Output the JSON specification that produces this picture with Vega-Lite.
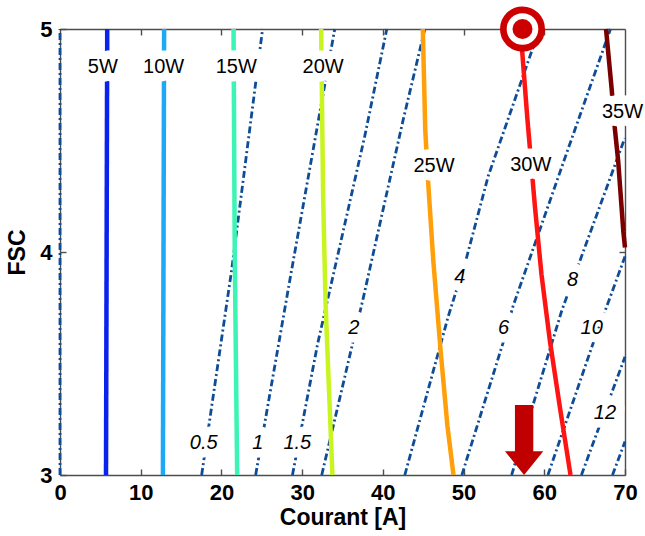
{
  "$schema": "https://vega.github.io/schema/vega-lite/v6.json",
  "width": 565,
  "height": 446,
  "autosize": "none",
  "padding": {"left": 60, "top": 29, "right": 20, "bottom": 61},
  "background": "white",
  "config": {
    "view": {"stroke": null},
    "font": "Liberation Sans",
    "axis": {
      "grid": false,
      "domainColor": "#4d4d4d",
      "domainWidth": 1.4,
      "tickColor": "#4d4d4d",
      "tickWidth": 1.4,
      "tickSize": -6,
      "labelFont": "Liberation Sans",
      "labelFontWeight": "bold",
      "labelFontSize": 22,
      "labelColor": "#000000",
      "labelFlush": false,
      "labelOverlap": false,
      "titleFont": "Liberation Sans",
      "titleFontWeight": "bold",
      "titleFontSize": 23,
      "titleColor": "#000000"
    }
  },
  "datasets": {
    "iso": [
      {"k": "0", "I": 0, "FSC": 3}, {"k": "0", "I": 0, "FSC": 5},
      {"k": "0.5", "I": 17.55, "FSC": 3}, {"k": "0.5", "I": 21.27, "FSC": 3.92}, {"k": "0.5", "I": 25.1, "FSC": 5},
      {"k": "1", "I": 24.24, "FSC": 3}, {"k": "1", "I": 28.7, "FSC": 3.92}, {"k": "1", "I": 34.04, "FSC": 5},
      {"k": "1.5", "I": 28.8, "FSC": 3}, {"k": "1.5", "I": 31.93, "FSC": 3.59}, {"k": "1.5", "I": 37.76, "FSC": 4.52}, {"k": "1.5", "I": 40.49, "FSC": 5},
      {"k": "2", "I": 32.43, "FSC": 3}, {"k": "2", "I": 37.55, "FSC": 3.79}, {"k": "2", "I": 42.5, "FSC": 4.59}, {"k": "2", "I": 45.2, "FSC": 5},
      {"k": "4", "I": 42.72, "FSC": 3}, {"k": "4", "I": 48.09, "FSC": 3.71}, {"k": "4", "I": 50.3, "FSC": 3.965}, {"k": "4", "I": 53.05, "FSC": 4.34}, {"k": "4", "I": 58.63, "FSC": 4.92}, {"k": "4", "I": 59.3, "FSC": 5},
      {"k": "6", "I": 49.79, "FSC": 3}, {"k": "6", "I": 54.87, "FSC": 3.59}, {"k": "6", "I": 56.11, "FSC": 3.755}, {"k": "6", "I": 62.93, "FSC": 4.46}, {"k": "6", "I": 68.2, "FSC": 5},
      {"k": "8", "I": 55.95, "FSC": 3}, {"k": "8", "I": 62.19, "FSC": 3.74}, {"k": "8", "I": 69.76, "FSC": 4.49}, {"k": "8", "I": 70, "FSC": 4.51},
      {"k": "10", "I": 60.45, "FSC": 3}, {"k": "10", "I": 66.04, "FSC": 3.59}, {"k": "10", "I": 67.73, "FSC": 3.755}, {"k": "10", "I": 70, "FSC": 3.98},
      {"k": "12", "I": 64.6, "FSC": 3}, {"k": "12", "I": 70, "FSC": 3.53},
      {"k": "14", "I": 68.45, "FSC": 3}, {"k": "14", "I": 70, "FSC": 3.15}
    ],
    "power": [
      {"P": "5W", "I": 5.7, "FSC": 3}, {"P": "5W", "I": 5.85, "FSC": 5},
      {"P": "10W", "I": 12.75, "FSC": 3}, {"P": "10W", "I": 12.9, "FSC": 5},
      {"P": "15W", "I": 21.95, "FSC": 3}, {"P": "15W", "I": 21.65, "FSC": 4}, {"P": "15W", "I": 21.5, "FSC": 5},
      {"P": "20W", "I": 33.75, "FSC": 3}, {"P": "20W", "I": 32.9, "FSC": 3.77}, {"P": "20W", "I": 32.6, "FSC": 4.25}, {"P": "20W", "I": 32.35, "FSC": 5},
      {"P": "25W", "I": 48.75, "FSC": 3}, {"P": "25W", "I": 48.0, "FSC": 3.22}, {"P": "25W", "I": 47.15, "FSC": 3.56}, {"P": "25W", "I": 46.25, "FSC": 3.96}, {"P": "25W", "I": 45.6, "FSC": 4.32}, {"P": "25W", "I": 45.25, "FSC": 4.55}, {"P": "25W", "I": 44.95, "FSC": 5},
      {"P": "30W", "I": 63.25, "FSC": 3}, {"P": "30W", "I": 61.95, "FSC": 3.3}, {"P": "30W", "I": 60.7, "FSC": 3.6}, {"P": "30W", "I": 59.65, "FSC": 3.9}, {"P": "30W", "I": 58.85, "FSC": 4.2}, {"P": "30W", "I": 57.9, "FSC": 4.6}, {"P": "30W", "I": 57.05, "FSC": 5},
      {"P": "35W", "I": 70, "FSC": 4.02}, {"P": "35W", "I": 69.8, "FSC": 4.09}, {"P": "35W", "I": 69.15, "FSC": 4.41}, {"P": "35W", "I": 68.75, "FSC": 4.55}, {"P": "35W", "I": 68.35, "FSC": 4.73}, {"P": "35W", "I": 67.65, "FSC": 5}
    ],
    "plabels": [
      {"label": "5W", "I": 5.3, "FSC": 4.83},
      {"label": "10W", "I": 12.84, "FSC": 4.83},
      {"label": "15W", "I": 21.83, "FSC": 4.83},
      {"label": "20W", "I": 32.6, "FSC": 4.83},
      {"label": "25W", "I": 46.34, "FSC": 4.384},
      {"label": "30W", "I": 58.33, "FSC": 4.39},
      {"label": "35W", "I": 69.69, "FSC": 4.63}
    ],
    "klabels": [
      {"label": "0.5", "I": 17.8, "FSC": 3.144},
      {"label": "1", "I": 24.5, "FSC": 3.144},
      {"label": "1.5", "I": 29.4, "FSC": 3.144},
      {"label": "2", "I": 36.4, "FSC": 3.66},
      {"label": "4", "I": 49.54, "FSC": 3.889},
      {"label": "6", "I": 54.95, "FSC": 3.66},
      {"label": "8", "I": 63.49, "FSC": 3.875},
      {"label": "10", "I": 65.87, "FSC": 3.66},
      {"label": "12", "I": 67.52, "FSC": 3.278}
    ],
    "target": [{"I": 57.3, "FSC": 5}],
    "arrow": [{"I": 57.5, "FSC": 3}]
  },
  "layer": [
    {
      "data": {"name": "iso"},
      "mark": {"type": "line", "color": "#0F4C96", "strokeWidth": 2.8, "strokeDash": [7, 3, 2, 3]},
      "encoding": {
        "x": {"field": "I", "type": "quantitative", "scale": {"domain": [0, 70], "nice": false, "zero": false},
              "axis": {"orient": "bottom", "values": [0, 10, 20, 30, 40, 50, 60, 70], "labelPadding": 13, "title": "Courant [A]", "titlePadding": 3}},
        "y": {"field": "FSC", "type": "quantitative", "scale": {"domain": [3, 5], "nice": false, "zero": false},
              "axis": {"orient": "left", "values": [3, 4, 5], "format": ".0f", "labelOverlap": false, "labelPadding": 14, "title": "FSC", "titlePadding": 10}},
        "detail": {"field": "k"},
        "order": {"field": "FSC", "type": "quantitative"}
      }
    },
    {
      "data": {"name": "power"},
      "mark": {"type": "line", "strokeWidth": 4.5},
      "encoding": {
        "x": {"field": "I", "type": "quantitative",
              "axis": {"orient": "top", "values": [10, 20, 30, 40, 50, 60], "labels": false, "title": null}},
        "y": {"field": "FSC", "type": "quantitative",
              "axis": {"orient": "right", "values": [4], "labels": false, "title": null}},
        "color": {"field": "P", "type": "nominal", "legend": null,
                  "scale": {"domain": ["5W", "10W", "15W", "20W", "25W", "30W", "35W"],
                            "range": ["#0A22EE", "#1EA8F6", "#3CF4B4", "#C8F420", "#FFA00A", "#FF1414", "#7A0000"]}},
        "order": {"field": "FSC", "type": "quantitative"}
      }
    },
    {
      "data": {"name": "plabels"},
      "mark": {"type": "text", "font": "Liberation Sans", "fontSize": 20, "color": "white", "stroke": "white", "strokeWidth": 17, "strokeJoin": "round", "align": "center", "baseline": "middle"},
      "encoding": {
        "x": {"field": "I", "type": "quantitative", "axis": null},
        "y": {"field": "FSC", "type": "quantitative", "axis": null},
        "text": {"field": "label"}
      }
    },
    {
      "data": {"name": "klabels"},
      "mark": {"type": "text", "font": "Liberation Sans", "fontSize": 20, "fontStyle": "italic", "color": "white", "stroke": "white", "strokeWidth": 17, "strokeJoin": "round", "align": "center", "baseline": "middle"},
      "encoding": {
        "x": {"field": "I", "type": "quantitative", "axis": null},
        "y": {"field": "FSC", "type": "quantitative", "axis": null},
        "text": {"field": "label"}
      }
    },
    {
      "data": {"name": "plabels"},
      "mark": {"type": "text", "font": "Liberation Sans", "fontSize": 20, "color": "black", "align": "center", "baseline": "middle"},
      "encoding": {
        "x": {"field": "I", "type": "quantitative", "axis": null},
        "y": {"field": "FSC", "type": "quantitative", "axis": null},
        "text": {"field": "label"}
      }
    },
    {
      "data": {"name": "klabels"},
      "mark": {"type": "text", "font": "Liberation Sans", "fontSize": 20, "fontStyle": "italic", "color": "black", "align": "center", "baseline": "middle"},
      "encoding": {
        "x": {"field": "I", "type": "quantitative", "axis": null},
        "y": {"field": "FSC", "type": "quantitative", "axis": null},
        "text": {"field": "label"}
      }
    },
    {
      "data": {"name": "target"},
      "mark": {"type": "point", "shape": "circle", "filled": true, "fill": "white", "stroke": "#CC0000", "strokeWidth": 6.7, "size": 1467, "opacity": 1},
      "encoding": {
        "x": {"field": "I", "type": "quantitative", "axis": null},
        "y": {"field": "FSC", "type": "quantitative", "axis": null}
      }
    },
    {
      "data": {"name": "target"},
      "mark": {"type": "point", "shape": "circle", "filled": true, "color": "#CC0000", "size": 400, "opacity": 1},
      "encoding": {
        "x": {"field": "I", "type": "quantitative", "axis": null},
        "y": {"field": "FSC", "type": "quantitative", "axis": null}
      }
    },
    {
      "data": {"name": "arrow"},
      "mark": {"type": "point", "shape": "M0,0L-0.274,-0.34L-0.131,-0.34L-0.131,-1L0.131,-1L0.131,-0.34L0.274,-0.34Z", "filled": true, "color": "#C00000", "size": 19600, "opacity": 1, "strokeWidth": 0},
      "encoding": {
        "x": {"field": "I", "type": "quantitative", "axis": null},
        "y": {"field": "FSC", "type": "quantitative", "axis": null}
      }
    }
  ],
  "resolve": {"axis": {"x": "independent", "y": "independent"}}
}
